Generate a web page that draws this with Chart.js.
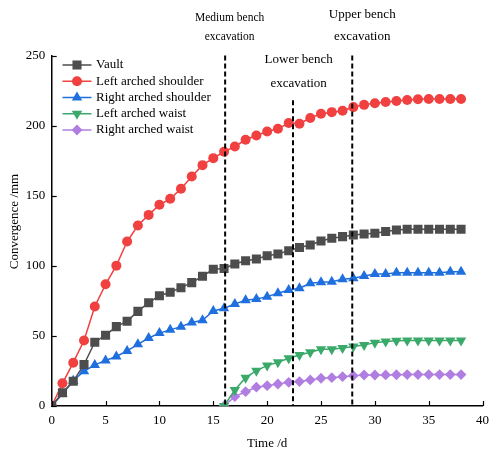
<!DOCTYPE html>
<html>
<head>
<meta charset="utf-8">
<script src="https://cdn.jsdelivr.net/npm/chart.js@4.4.1/dist/chart.umd.min.js"></script>
<style>
  html, body { margin: 0; padding: 0; background: #ffffff; }
  #wrap { width: 489px; height: 455px; }
</style>
</head>
<body>
<div id="wrap"><canvas id="chart" width="489" height="455"></canvas></div>
<script>
// Monitoring days and convergence readings (mm)
const days = [0,1,2,3,4,5,6,7,8,9,10,11,12,13,14,15,16,17,18,19,20,21,22,23,24,25,26,27,28,29,30,31,32,33,34,35,36,37,38];
const vault = [0,9.5,17.6,29.6,45.5,50.5,56.6,60.5,67.5,73.7,78.7,81.1,84.4,88,92.6,97.5,98.1,101.3,103.6,104.9,107.2,108.4,110.8,113,114.9,117.7,119.6,120.8,122,122.7,123.2,124.4,125.5,126,126,126,126,126,126];
const leftShoulder = [0,16.2,30.9,46.7,71,86.8,100.1,117.3,128.7,136.3,143.5,147.8,154.9,163.7,171.8,176.8,181.3,185.1,189.9,192.9,195.8,197.7,201.8,201.3,205.4,208.4,209.6,210.6,213.2,214.8,216,216.8,217.6,218.3,218.8,219,219,219,219];
const rightShoulder = [0,8.5,18,24.8,29.3,32.5,35.3,39.3,44,48.5,52,54.3,56.6,59.5,61.2,67.8,69.7,72.8,75.5,76.4,78,80.4,82.8,84,87.5,88.3,88.7,90.4,91.1,92.8,94.2,94.2,95.1,95.1,95.1,95.1,95.1,95.8,95.8];
const waistDays = [16,17,18,19,20,21,22,23,24,25,26,27,28,29,30,31,32,33,34,35,36,37,38];
const leftWaist = [0,11.4,20.2,25.2,28.8,31.2,34,36.4,38.3,40.4,40.4,41.3,42.4,43.5,45.2,46,46.6,46.8,46.8,46.8,46.8,46.8,46.8];
const rightWaist = [0,6.7,10.2,13.4,14.5,15.7,16.9,17.4,18.6,19.8,20.2,20.9,21.6,22.1,22.1,22.2,22.3,22.4,22.4,22.4,22.4,22.4,22.4];

const seriesNames = ["Vault","Left arched shoulder","Right arched shoulder","Left arched waist","Right arched waist"];
const xTickValues = [0,5,10,15,20,25,30,35,40];
const yTickValues = [0,50,100,150,200,250];

// Construction stages: day of each excavation and top of its marker line (mm)
const stageNames = [["Medium bench","excavation"],["Lower bench","excavation"],["Upper bench","excavation"]];
const stageDays = [16.1, 22.4, 27.9];
const stageTops = [250, 218, 250];

const SERIF = "'Liberation Serif', 'Times New Roman', serif";

function pairs(xs, ys) { return xs.map((x, i) => ({ x: x, y: ys[i] })); }

const styles = [
  { color: '#4d4d4d', pointStyle: 'rect',     radius: 6.4, rotation: 0 },
  { color: '#f0403f', pointStyle: 'circle',   radius: 5,   rotation: 0 },
  { color: '#1f6fde', pointStyle: 'triangle', radius: 6,   rotation: 0 },
  { color: '#3aa96a', pointStyle: 'triangle', radius: 6,   rotation: 180 },
  { color: '#b07ee0', pointStyle: 'rectRot',  radius: 5.4, rotation: 0 }
];
const seriesData = [
  pairs(days, vault),
  pairs(days, leftShoulder),
  pairs(days, rightShoulder),
  pairs(waistDays, leftWaist),
  pairs(waistDays, rightWaist)
];

const datasets = seriesNames.map((name, i) => ({
  label: name,
  data: seriesData[i],
  borderColor: styles[i].color,
  backgroundColor: styles[i].color,
  borderWidth: 1.5,
  pointStyle: styles[i].pointStyle,
  pointRadius: styles[i].radius,
  pointRotation: styles[i].rotation,
  pointBackgroundColor: styles[i].color,
  pointBorderWidth: 0,
  tension: 0
}));

// Inward tick marks on both axes
const innerTicks = {
  id: 'innerTicks',
  afterDraw(chart) {
    const { ctx, chartArea, scales } = chart;
    ctx.save();
    ctx.strokeStyle = '#000';
    ctx.lineWidth = 1.2;
    xTickValues.forEach(v => {
      const px = Math.round(scales.x.getPixelForValue(v)) + 0.5;
      ctx.beginPath();
      ctx.moveTo(px, chartArea.bottom);
      ctx.lineTo(px, chartArea.bottom - 5);
      ctx.stroke();
    });
    yTickValues.forEach(v => {
      const py = Math.round(scales.y.getPixelForValue(v)) + 0.5;
      ctx.beginPath();
      ctx.moveTo(chartArea.left, py);
      ctx.lineTo(chartArea.left + 5, py);
      ctx.stroke();
    });
    ctx.restore();
  }
};

// Excavation stage markers with their captions
const stageLabelLayout = [
  { dx: 4.5, rows: [18.3, 37.3], size: 11.5 },
  { dx: 5.7, rows: [60, 83.3],   size: 13 },
  { dx: 10,  rows: [15, 37],     size: 13 }
];
const stageMarkers = {
  id: 'stageMarkers',
  afterDatasetsDraw(chart) {
    const { ctx, scales } = chart;
    ctx.save();
    stageDays.forEach((d, i) => {
      const px = scales.x.getPixelForValue(d);
      ctx.strokeStyle = '#000';
      ctx.lineWidth = 2;
      ctx.setLineDash([5, 3]);
      ctx.beginPath();
      ctx.moveTo(px, scales.y.getPixelForValue(stageTops[i]));
      ctx.lineTo(px, scales.y.getPixelForValue(0));
      ctx.stroke();
      ctx.setLineDash([]);
      const lay = stageLabelLayout[i];
      ctx.fillStyle = '#000';
      ctx.font = lay.size + 'px ' + SERIF;
      ctx.textAlign = 'center';
      ctx.textBaseline = 'middle';
      stageNames[i].forEach((t, k) => ctx.fillText(t, px + lay.dx, lay.rows[k]));
    });
    ctx.restore();
  }
};

// Legend drawn inside the plot: line sample with marker, then the name
const innerLegend = {
  id: 'innerLegend',
  afterDraw(chart) {
    const { ctx } = chart;
    ctx.save();
    seriesNames.forEach((name, i) => {
      const y = 65 + i * 16.25;
      const st = styles[i];
      ctx.strokeStyle = st.color;
      ctx.lineWidth = 1.5;
      ctx.beginPath();
      ctx.moveTo(62.5, y);
      ctx.lineTo(91.5, y);
      ctx.stroke();
      ctx.fillStyle = st.color;
      Chart.helpers.drawPoint(ctx, {
        pointStyle: st.pointStyle, rotation: st.rotation, radius: st.radius, borderWidth: 0
      }, 77, y);
      ctx.fillStyle = '#000';
      ctx.font = '13px ' + SERIF;
      ctx.textAlign = 'left';
      ctx.textBaseline = 'middle';
      ctx.fillText(name, 96, y);
    });
    ctx.restore();
  }
};

// Rotated y-axis title
const yTitle = {
  id: 'yTitle',
  afterDraw(chart) {
    const { ctx } = chart;
    ctx.save();
    ctx.translate(15, 221.5);
    ctx.rotate(-Math.PI / 2);
    ctx.fillStyle = '#000';
    ctx.font = '13px ' + SERIF;
    ctx.textAlign = 'center';
    ctx.textBaseline = 'middle';
    ctx.fillText('Convergence /mm', 0, 0);
    ctx.restore();
  }
};

new Chart(document.getElementById('chart'), {
  type: 'line',
  data: { datasets: datasets },
  options: {
    responsive: false,
    animation: false,
    events: [],
    layout: { padding: { top: 55.5, right: 6.3, left: 0, bottom: 0 } },
    plugins: { legend: { display: false }, tooltip: { enabled: false } },
    scales: {
      x: {
        type: 'linear',
        min: 0, max: 40,
        afterBuildTicks: s => { s.ticks = xTickValues.map(v => ({ value: v })); },
        afterFit: s => { s.height = 49; s.paddingLeft = 0; s.paddingRight = 0; },
        grid: { display: false, drawTicks: false },
        border: { display: true, color: '#000', width: 1.5 },
        ticks: { color: '#000', padding: 7, font: { family: SERIF, size: 13 } },
        title: { display: true, text: 'Time /d', color: '#000',
                 font: { family: SERIF, size: 13 }, padding: { top: 0, bottom: 4 } }
      },
      y: {
        type: 'linear',
        min: 0, max: 250,
        afterBuildTicks: s => { s.ticks = yTickValues.map(v => ({ value: v })); },
        afterFit: s => { s.width = 51.7; },
        grid: { display: false, drawTicks: false },
        border: { display: true, color: '#000', width: 1.5 },
        ticks: { color: '#000', padding: 6.5, font: { family: SERIF, size: 13 } }
      }
    }
  },
  plugins: [innerTicks, stageMarkers, innerLegend, yTitle]
});
</script>
</body>
</html>
